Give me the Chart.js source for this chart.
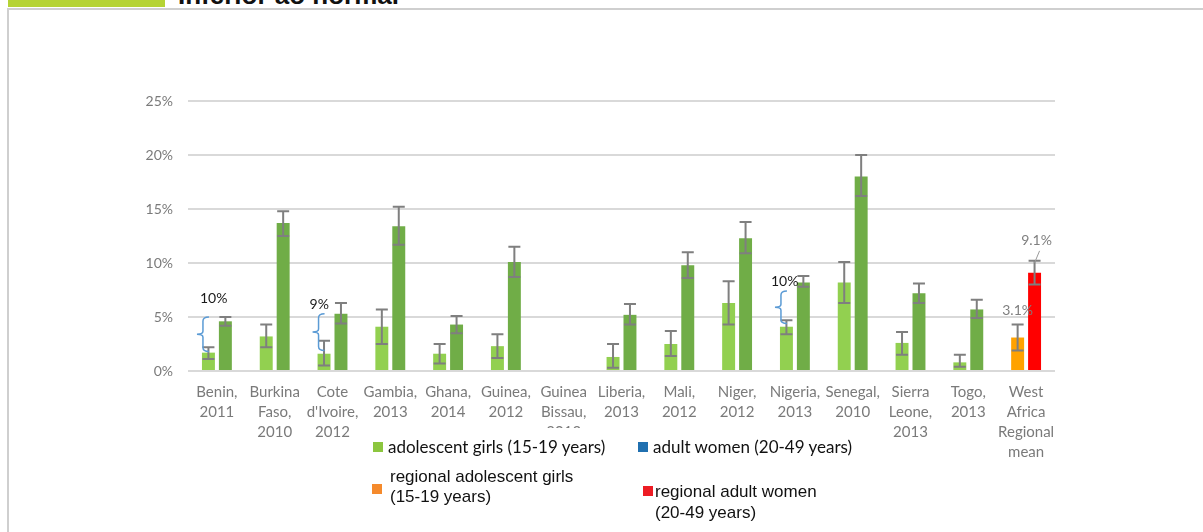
<!DOCTYPE html>
<html>
<head>
<meta charset="utf-8">
<script src="https://cdn.jsdelivr.net/npm/chart.js@4.4.1/dist/chart.umd.min.js"></script>
<style>
  html, body { margin: 0; padding: 0; background: #fff; }
  body { width: 1203px; height: 532px; position: relative; overflow: hidden; }
  .topbar { position: absolute; left: 8px; top: 0; width: 157px; height: 7px; background: #b5d334; }
  .title { position: absolute; left: 178px; top: -18px; font: bold 26px/26px "Liberation Sans", Arial, sans-serif; color: #111; white-space: nowrap; }
  .frame { position: absolute; left: 7px; top: 8px; right: 0; bottom: 0; border-top: 2px solid #cfcfcf; border-left: 2px solid #cfcfcf; }
  #chart { position: absolute; left: 0; top: 0; }
  .mask { position: absolute; left: 535px; top: 428px; width: 60px; height: 12px; background: #fff; }
  .legend { position: absolute; color: #111; white-space: nowrap; }
  .legend .sw { position: absolute; width: 10px; height: 10px; }
  .lg1 { font: 17px/20px Lato, "Open Sans", sans-serif; }
  .lg2 { font: 17px/20px "Liberation Sans", Arial, sans-serif; }
</style>
</head>
<body>
<div class="topbar"></div>
<div class="title">Inferior ao normal</div>
<div class="frame"></div>
<canvas id="chart" width="1203" height="532"></canvas>
<div class="mask"></div>

<div class="legend lg1" style="left:373px; top:437px;"><span class="sw" style="left:0; top:5px; background:#8cc63f;"></span><span style="margin-left:15px;">adolescent girls (15-19 years)</span></div>
<div class="legend lg1" style="left:638px; top:437px;"><span class="sw" style="left:0; top:5px; background:#2070b0;"></span><span style="margin-left:15px;">adult women (20-49 years)</span></div>
<div class="legend lg2" style="left:372px; top:467px;"><span class="sw" style="left:0; top:17px; background:#f58a2c;"></span><div style="margin-left:18px;">regional adolescent girls<br>(15-19 years)</div></div>
<div class="legend lg2" style="left:643px; top:481px; line-height:21px;"><span class="sw" style="left:0; top:5px; background:#ed1c24;"></span><div style="margin-left:12px;">regional adult women<br>(20-49 years)</div></div>

<script>
const categories = [
  ['Benin,', '2011'], ['Burkina', 'Faso,', '2010'], ['Cote', "d'Ivoire,", '2012'],
  ['Gambia,', '2013'], ['Ghana,', '2014'], ['Guinea,', '2012'], ['Guinea', 'Bissau,', '2012'],
  ['Liberia,', '2013'], ['Mali,', '2012'], ['Niger,', '2012'], ['Nigeria,', '2013'],
  ['Senegal,', '2010'], ['Sierra', 'Leone,', '2013'], ['Togo,', '2013'],
  ['West', 'Africa', 'Regional', 'mean']
];

// adolescent girls (15-19), last value = regional mean
const girls     = [1.7, 3.2, 1.6, 4.1, 1.6, 2.3, null, 1.3, 2.5, 6.3, 4.1, 8.2, 2.6, 0.8, 3.1];
const girlsLow  = [1.1, 2.2, 0.5, 2.5, 0.7, 1.2, null, 0.3, 1.4, 4.3, 3.4, 6.3, 1.5, 0.4, 1.9];
const girlsHigh = [2.2, 4.3, 2.8, 5.7, 2.5, 3.4, null, 2.5, 3.7, 8.3, 4.7, 10.1, 3.6, 1.5, 4.3];

// adult women (20-49), last value = regional mean
const women     = [4.6, 13.7, 5.3, 13.4, 4.3, 10.1, null, 5.2, 9.8, 12.3, 8.2, 18.0, 7.2, 5.7, 9.1];
const womenLow  = [4.2, 12.5, 4.4, 11.7, 3.5, 8.7, null, 4.3, 8.6, 10.9, 7.8, 16.2, 6.3, 4.9, 8.0];
const womenHigh = [5.0, 14.8, 6.3, 15.2, 5.1, 11.5, null, 6.2, 11.0, 13.8, 8.8, 20.0, 8.1, 6.6, 10.2];

const yTicks = [0, 5, 10, 15, 20, 25];

// brackets drawn next to some adolescent bars
const braceIndex  = [0, 2, 10];
const braceTop    = [5.0, 5.3, 7.4];
const braceBottom = [1.8, 1.9, 4.4];
const braceText   = ['10%', '9%', '10%'];
const braceTextAt = [6.7, 6.2, 8.3];

const regionalText = ['3.1%', '9.1%'];

const lastIdx = categories.length - 1;
const girlsColors = girls.map((v, i) => i === lastIdx ? '#ffa200' : '#92d050');
const womenColors = women.map((v, i) => i === lastIdx ? '#ff0000' : '#70ad47');

const errorBars = {
  id: 'errorBars',
  afterDatasetsDraw(chart) {
    const { ctx } = chart;
    const y = chart.scales.y;
    const ranges = [[girlsLow, girlsHigh], [womenLow, womenHigh]];
    ctx.save();
    ctx.strokeStyle = '#7f7f7f';
    ctx.lineWidth = 2;
    ranges.forEach(([lo, hi], d) => {
      chart.getDatasetMeta(d).data.forEach((bar, i) => {
        if (lo[i] == null) return;
        const x = bar.x, y1 = y.getPixelForValue(lo[i]), y2 = y.getPixelForValue(hi[i]);
        ctx.beginPath();
        ctx.moveTo(x, y1); ctx.lineTo(x, y2);
        ctx.moveTo(x - 6, y1); ctx.lineTo(x + 6, y1);
        ctx.moveTo(x - 6, y2); ctx.lineTo(x + 6, y2);
        ctx.stroke();
      });
    });
    ctx.restore();
  }
};

const notes = {
  id: 'notes',
  afterDatasetsDraw(chart) {
    const { ctx } = chart;
    const y = chart.scales.y;
    const meta0 = chart.getDatasetMeta(0);
    const meta1 = chart.getDatasetMeta(1);
    const labelShift = [-2, -8, -9];
    ctx.save();
    // braces
    braceIndex.forEach((ci, k) => {
      const bar = meta0.data[ci];
      const left = bar.x - bar.width / 2;
      const sx = left + 1;
      const t = y.getPixelForValue(braceTop[k]);
      const b = y.getPixelForValue(braceBottom[k]);
      const m = (t + b) / 2;
      ctx.strokeStyle = '#5b9bd5';
      ctx.lineWidth = 1.5;
      ctx.beginPath();
      ctx.moveTo(sx + 6, t);
      ctx.quadraticCurveTo(sx, t, sx, t + 4);
      ctx.lineTo(sx, m - 3);
      ctx.quadraticCurveTo(sx, m, sx - 6, m);
      ctx.quadraticCurveTo(sx, m, sx, m + 3);
      ctx.lineTo(sx, b - 4);
      ctx.quadraticCurveTo(sx, b, sx + 6, b);
      ctx.stroke();
      ctx.fillStyle = '#1a1a1a';
      ctx.font = '14px Lato, "Open Sans", sans-serif';
      ctx.textAlign = 'left';
      ctx.textBaseline = 'middle';
      ctx.fillText(braceText[k], left + labelShift[k], y.getPixelForValue(braceTextAt[k]));
    });
    // regional labels
    ctx.fillStyle = '#7f7f7f';
    ctx.font = '14px Lato, "Open Sans", sans-serif';
    ctx.textAlign = 'center';
    ctx.textBaseline = 'middle';
    const g = meta0.data[lastIdx], w = meta1.data[lastIdx];
    ctx.fillText(regionalText[0], g.x, y.getPixelForValue(girlsHigh[lastIdx]) - 14);
    ctx.fillText(regionalText[1], w.x + 2, y.getPixelForValue(womenHigh[lastIdx]) - 20);
    ctx.strokeStyle = '#9a9a9a';
    ctx.lineWidth = 1;
    ctx.beginPath();
    ctx.moveTo(w.x + 5, y.getPixelForValue(womenHigh[lastIdx]) - 10);
    ctx.lineTo(w.x, y.getPixelForValue(womenHigh[lastIdx]) + 2);
    ctx.stroke();
    ctx.restore();
  }
};

new Chart(document.getElementById('chart'), {
  type: 'bar',
  data: {
    labels: categories,
    datasets: [
      {
        label: 'adolescent girls (15-19 years)',
        data: girls,
        backgroundColor: girlsColors,
        barPercentage: 0.765,
        categoryPercentage: 0.586,
      },
      {
        label: 'adult women (20-49 years)',
        data: women,
        backgroundColor: womenColors,
        barPercentage: 0.765,
        categoryPercentage: 0.586,
      }
    ]
  },
  options: {
    responsive: false,
    animation: false,
    layout: { padding: { left: 0, right: 148, top: 101, bottom: 0 } },
    plugins: {
      legend: { display: false },
      tooltip: { enabled: false },
    },
    scales: {
      x: {
        grid: { display: false, drawTicks: false },
        border: { display: false },
        ticks: {
          color: '#7a7a7a',
          font: { family: 'Lato, "Open Sans", sans-serif', size: 15, lineHeight: 20 / 15 },
          padding: 11,
          maxRotation: 0,
          autoSkip: false,
        },
        afterFit(scale) { scale.height = 161; }
      },
      y: {
        min: 0,
        max: 25,
        afterBuildTicks(scale) { scale.ticks = yTicks.map(v => ({ value: v })); },
        grid: { color: '#d9d9d9', lineWidth: 2, drawTicks: false },
        border: { display: false },
        ticks: {
          color: '#7a7a7a',
          font: { family: 'Lato, "Open Sans", sans-serif', size: 14 },
          padding: 15,
          callback: v => v + '%',
        },
        afterFit(scale) { scale.width = 188; }
      }
    }
  },
  plugins: [errorBars, notes]
});
</script>
</body>
</html>
